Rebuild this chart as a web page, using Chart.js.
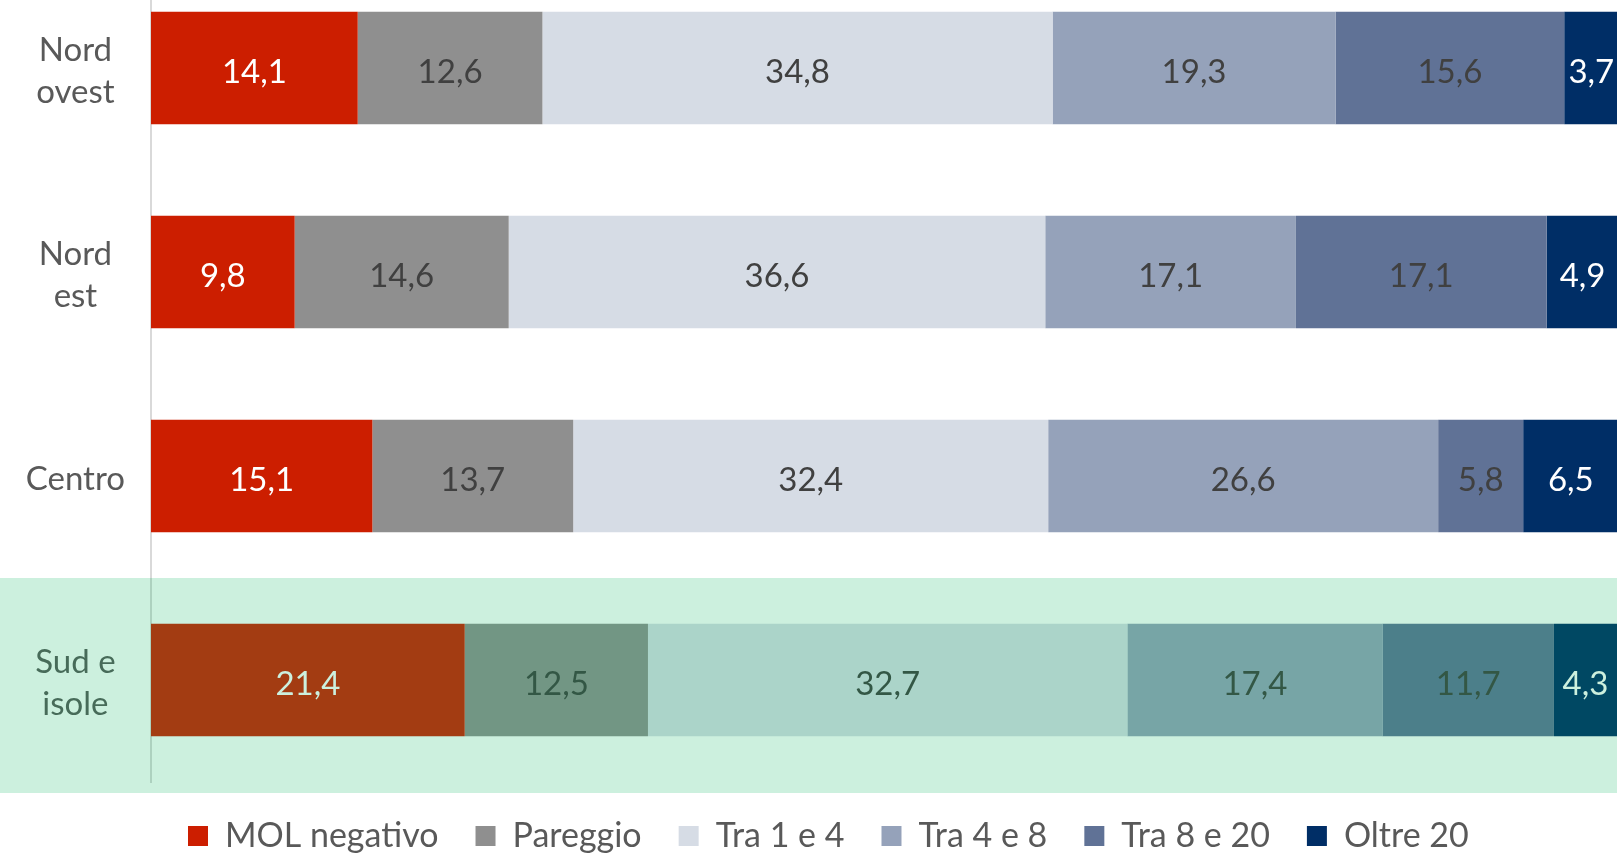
<!DOCTYPE html>
<html>
<head>
<meta charset="utf-8">
<script src="https://cdn.jsdelivr.net/npm/chart.js@4/dist/chart.umd.min.js"></script>
<style>
  html, body { margin: 0; padding: 0; background: #fff; overflow: hidden; width: 1617px; height: 853px; }
  #wrap { position: absolute; left: 0; top: -34px; width: 1617px; height: 897px; }
</style>
</head>
<body>
<div id="wrap"><canvas id="chart" width="1617" height="897"></canvas></div>
<script>
'use strict'

const regions = [['Nord', 'ovest'], ['Nord', 'est'], 'Centro', ['Sud e', 'isole']]
const seriesNames = ['MOL negativo', 'Pareggio', 'Tra 1 e 4', 'Tra 4 e 8', 'Tra 8 e 20', 'Oltre 20']
const molNegativo = [14.1, 9.8, 15.1, 21.4]
const pareggio = [12.6, 14.6, 13.7, 12.5]
const tra1e4 = [34.8, 36.6, 32.4, 32.7]
const tra4e8 = [19.3, 17.1, 26.6, 17.4]
const tra8e20 = [15.6, 17.1, 5.8, 11.7]
const oltre20 = [3.7, 4.9, 6.5, 4.3]

const seriesValues = [molNegativo, pareggio, tra1e4, tra4e8, tra8e20, oltre20]
const colors = ['#CC1E00', '#8F8F8F', '#D6DCE5', '#95A2BA', '#607296', '#002E66']
const labelColors = ['#FFFFFF', '#404040', '#404040', '#404040', '#404040', '#FFFFFF']
const highlightIndex = 3

// value labels in the middle of each segment
const valueLabels = {
  id: 'valueLabels',
  afterDatasetsDraw (chart) {
    const ctx = chart.ctx
    ctx.save()
    ctx.font = '33px Lato'
    ctx.textAlign = 'center'
    ctx.textBaseline = 'middle'
    chart.data.datasets.forEach((ds, i) => {
      chart.getDatasetMeta(i).data.forEach((bar, j) => {
        const p = bar.getProps(['x', 'y', 'base'], true)
        ctx.fillStyle = labelColors[i]
        ctx.fillText(ds.data[j].toFixed(1).replace('.', ','), (p.x + p.base) / 2, p.y + 4)
      })
    })
    ctx.restore()
  }
}

// green band over the last region
const highlight = {
  id: 'highlight',
  afterDraw (chart) {
    const y = chart.scales.y
    const slot = (y.bottom - y.top) / regions.length
    const top = y.getPixelForValue(highlightIndex) - slot / 2
    const ctx = chart.ctx
    ctx.save()
    ctx.fillStyle = 'rgba(0, 178, 92, 0.2)'
    ctx.fillRect(0, top, chart.width, slot + 11)
    ctx.restore()
  }
}

const chart = new Chart(document.getElementById('chart').getContext('2d'), {
  type: 'bar',
  data: {
    labels: regions,
    datasets: seriesNames.map((name, i) => ({
      label: name,
      data: seriesValues[i],
      backgroundColor: colors[i],
      borderWidth: 0,
      barPercentage: 0.552,
      categoryPercentage: 1
    }))
  },
  options: {
    indexAxis: 'y',
    responsive: false,
    animation: false,
    devicePixelRatio: 1,
    layout: { padding: 0 },
    scales: {
      x: {
        stacked: true,
        display: false,
        min: 0,
        max: 100
      },
      y: {
        stacked: true,
        grid: { display: false, drawTicks: false },
        border: { display: true, color: '#D9D9D9', width: 2 },
        ticks: {
          crossAlign: 'center',
          padding: 26,
          labelOffset: 3,
          color: '#595959',
          font: { family: 'Lato', size: 33, lineHeight: 1.27 }
        },
        afterFit (scale) {
          scale.width = 151
          scale.paddingTop = 0
          scale.paddingBottom = 0
        }
      }
    },
    plugins: {
      tooltip: { enabled: false },
      legend: {
        position: 'bottom',
        align: 'start',
        fullSize: false,
        labels: {
          boxWidth: 20,
          boxHeight: 20,
          padding: 37,
          color: '#595959',
          font: { family: 'Lato', size: 34 }
        }
      }
    }
  },
  plugins: [valueLabels, highlight]
})
</script>
</body>
</html>
